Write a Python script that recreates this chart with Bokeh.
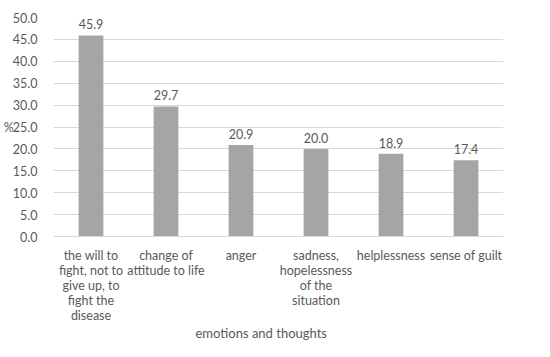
from bokeh.plotting import figure
from bokeh.models import ColumnDataSource, FactorRange, Range1d, FixedTicker, NumeralTickFormatter, Title
from bokeh.embed import file_html
from bokeh.resources import INLINE
from bokeh.core.properties import value

categories = [
    "the will to\nfight, not to\ngive up, to\nfight the\ndisease",
    "change of\nattitude to life",
    "anger",
    "sadness,\nhopelessness\nof the\nsituation",
    "helplessness",
    "sense of guilt",
]
values = [45.9, 29.7, 20.9, 20.0, 18.9, 17.4]
value_labels = ["%.1f" % v for v in values]
y_ticks = [0, 5, 10, 15, 20, 25, 30, 35, 40, 45, 50]

FONT = "Lato"
TXT = "#595959"

src = ColumnDataSource(dict(cat=categories, val=values, lab=value_labels))

p = figure(frame_width=450, frame_height=219, x_range=FactorRange(*categories), y_range=Range1d(0, 50),
           output_backend="svg", toolbar_location=None,
           min_border_left=47, min_border_right=35, min_border_top=17, min_border_bottom=115)
p.outline_line_color = None
p.vbar(x="cat", top="val", width=0.33, source=src, fill_color="#a5a5a5", line_color=None)
p.text(x="cat", y="val", text="lab", source=src, y_offset=-6, text_align="center",
       text_baseline="bottom", text_font=value(FONT), text_font_size="12.5px", text_color=TXT)

p.yaxis.ticker = FixedTicker(ticks=y_ticks)
p.yaxis.formatter = NumeralTickFormatter(format="0.0")
p.yaxis.axis_line_color = None
p.yaxis.major_tick_line_color = None
p.yaxis.minor_tick_line_color = None
p.yaxis.major_label_text_font = FONT
p.yaxis.major_label_text_font_size = "12.5px"
p.yaxis.major_label_text_color = TXT
p.yaxis.major_label_standoff = 10
p.yaxis.axis_label = "%"
p.yaxis.axis_label_orientation = "horizontal"
p.yaxis.axis_label_standoff = -4
p.yaxis.axis_label_text_font = FONT
p.yaxis.axis_label_text_font_size = "12.5px"
p.yaxis.axis_label_text_font_style = "normal"
p.yaxis.axis_label_text_color = TXT

p.xaxis.axis_line_color = "#d9d9d9"
p.xaxis.major_tick_line_color = None
p.xaxis.minor_tick_line_color = None
p.xaxis.major_label_text_font = FONT
p.xaxis.major_label_text_font_size = "12.5px"
p.xaxis.major_label_text_color = TXT
p.xaxis.major_label_standoff = 5
p.xaxis.major_label_text_line_height = 1.0

p.xgrid.grid_line_color = None
p.ygrid.grid_line_color = "#d9d9d9"

p.add_layout(Title(text="emotions and thoughts", align="left", offset=142, standoff=-6,
                   text_font=FONT, text_font_size="13px", text_color=TXT,
                   text_font_style="normal"), "below")

open("out.html", "w").write(file_html(p, INLINE))
